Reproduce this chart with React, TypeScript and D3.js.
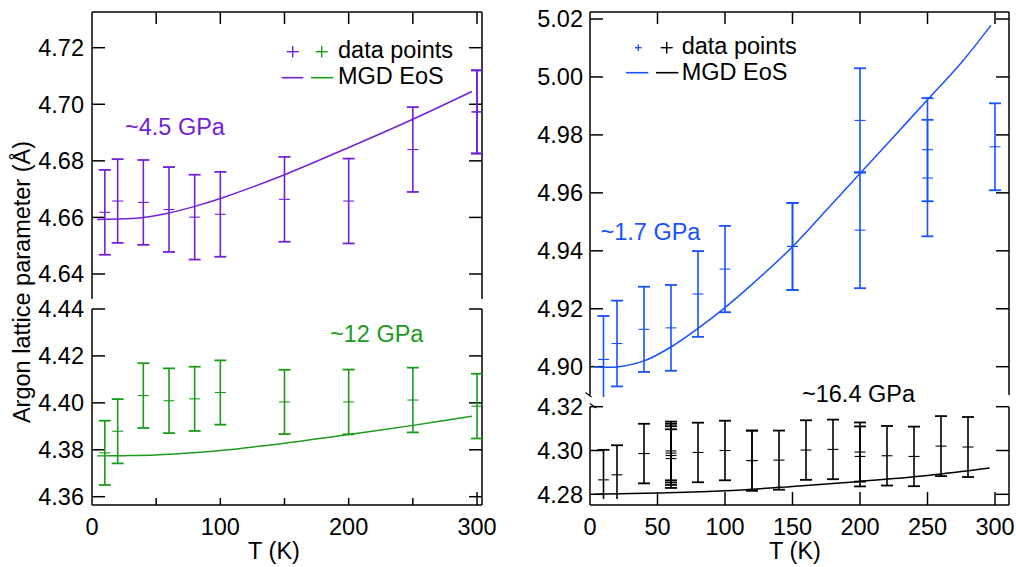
import React from 'react';
import * as d3 from 'd3';

const FONT = '"Liberation Sans", Arial, Helvetica, sans-serif';
const FS = 23.5;
const PURPLE = '#7420d8';
const GREEN = '#1a9c1a';
const BLUE = '#1652ff';
const BLACK = '#000000';

// ---------- data: ~4.5 GPa (left top, purple)
const T45 = [10, 20, 40, 60, 80, 100, 150, 200, 250, 300, 300];
const A45 = [4.6618, 4.6658, 4.6653, 4.6628, 4.6601, 4.6611, 4.6664, 4.6658, 4.684, 4.6973, 4.6973];
const E45 = [0.015, 0.0148, 0.015, 0.015, 0.015, 0.015, 0.015, 0.015, 0.015, 0.0147, 0.0147];
const CT45 = [4, 20, 40, 60, 80, 100, 150, 200, 250, 296];
const CA45 = [4.6593, 4.6594, 4.66, 4.6616, 4.6639, 4.6667, 4.6751, 4.6847, 4.6947, 4.7045];

// ---------- data: ~12 GPa (left bottom, green)
const T12 = [10, 20, 40, 60, 80, 100, 150, 200, 250, 300];
const A12 = [4.3787, 4.3879, 4.4031, 4.4009, 4.4017, 4.4044, 4.4004, 4.4004, 4.4012, 4.3986];
const E12 = [0.0137, 0.0137, 0.0138, 0.0138, 0.0137, 0.0137, 0.0137, 0.0138, 0.0138, 0.0138];
const CT12 = [4, 25, 50, 75, 100, 150, 200, 250, 296];
const CA12 = [4.3774, 4.3775, 4.3778, 4.3786, 4.3797, 4.3828, 4.3865, 4.3904, 4.3943];

// ---------- data: ~1.7 GPa (right top, blue)
const T17 = [10, 20, 40, 60, 80, 100, 150, 150, 200, 200, 250, 250, 300];
const A17 = [4.9025, 4.908, 4.9129, 4.9134, 4.9251, 4.9337, 4.9415, 4.9415, 4.985, 4.9471, 4.9749, 4.9651, 4.9759];
const E17 = [0.015, 0.0148, 0.0147, 0.0148, 0.0148, 0.0149, 0.015, 0.015, 0.018, 0.02, 0.0178, 0.0201, 0.015];
const CT17 = [3, 20, 40, 60, 80, 100, 120, 150, 175, 200, 225, 250, 275, 297];
const CA17 = [4.9, 4.8999, 4.902, 4.9068, 4.9132, 4.9204, 4.9284, 4.9414, 4.954, 4.9667, 4.9794, 4.9921, 5.0049, 5.0178];

// ---------- data: ~16.4 GPa (right bottom, black)
const T164 = [10, 20, 40, 60, 60, 60, 60, 80, 100, 120, 120, 140, 160, 180, 200, 200, 220, 240, 260, 280];
const A164 = [4.2866, 4.2889, 4.2986, 4.2998, 4.2988, 4.2977, 4.2963, 4.2991, 4.3, 4.2954, 4.2954, 4.2956, 4.3002, 4.3005, 4.2993, 4.2973, 4.2976, 4.2973, 4.302, 4.3016];
const E164 = [0.0137, 0.0135, 0.0136, 0.0134, 0.0134, 0.0134, 0.0134, 0.0136, 0.0136, 0.0137, 0.0137, 0.0135, 0.0136, 0.0136, 0.0135, 0.0137, 0.0136, 0.0136, 0.0137, 0.0137];
const CT164 = [3, 50, 100, 150, 200, 250, 296];
const CA164 = [4.28, 4.2806, 4.2816, 4.2836, 4.2859, 4.2886, 4.292];

// ---------- ticks
const yTicksLT = [4.64, 4.66, 4.68, 4.7, 4.72];
const yTicksLB = [4.36, 4.38, 4.4, 4.42, 4.44];
const yTicksRT = [4.9, 4.92, 4.94, 4.96, 4.98, 5.0, 5.02];
const yTicksRB = [4.28, 4.3, 4.32];
const xTicks = [50, 100, 150, 200, 250, 300];
const xLabelsLeft = [0, 100, 200, 300];
const xLabelsRight = [0, 50, 100, 150, 200, 250, 300];

// ---------- scales
const xL = d3.scaleLinear().domain([0, 300]).range([92, 477]);
const xR = d3.scaleLinear().domain([0, 300]).range([590, 995]);
const yLT = d3.scaleLinear().domain([4.64, 4.72]).range([274, 47.7]);
const yLB = d3.scaleLinear().domain([4.36, 4.44]).range([496.7, 309]);
const yRT = d3.scaleLinear().domain([4.9, 5.02]).range([366.7, 19]);
const yRB = d3.scaleLinear().domain([4.28, 4.32]).range([494.3, 406.7]);

const fmt = d3.format('.2f');

type Sc = d3.ScaleLinear<number, number>;

function ErrorBars(props: { T: number[]; A: number[]; E: number[]; x: Sc; y: Sc; color: string; clip: string }) {
  const { T, A, E, x, y, color, clip } = props;
  return (
    <g clipPath={`url(#${clip})`} stroke={color} fill="none">
      {T.map((t, i) => {
        const cx = x(t);
        const top = y(A[i] + E[i]);
        const bot = y(A[i] - E[i]);
        const cy = y(A[i]);
        return (
          <g key={i}>
            <line x1={cx} x2={cx} y1={top} y2={bot} strokeWidth={1.6} />
            <line x1={cx - 6} x2={cx + 6} y1={top} y2={top} strokeWidth={1.8} />
            <line x1={cx - 6} x2={cx + 6} y1={bot} y2={bot} strokeWidth={1.8} />
            <line x1={cx - 5.5} x2={cx + 5.5} y1={cy} y2={cy} strokeWidth={1.1} />
          </g>
        );
      })}
    </g>
  );
}

function Curve(props: { T: number[]; A: number[]; x: Sc; y: Sc; color: string; clip: string }) {
  const { T, A, x, y, color, clip } = props;
  const pts: [number, number][] = T.map((t, i) => [t, A[i]]);
  const line = d3
    .line<[number, number]>()
    .x((d) => x(d[0]))
    .y((d) => y(d[1]))
    .curve(d3.curveCatmullRom.alpha(0.5));
  return <path d={line(pts) || ''} fill="none" stroke={color} strokeWidth={1.5} clipPath={`url(#${clip})`} />;
}

function YAxis(props: { ticks: number[]; y: Sc; left: number; right: number; labelX: number }) {
  const { ticks, y, left, right, labelX } = props;
  return (
    <g>
      {ticks.map((v) => (
        <g key={v}>
          <line x1={left} x2={left + 13} y1={y(v)} y2={y(v)} stroke={BLACK} strokeWidth={1.5} />
          <line x1={right} x2={right - 13} y1={y(v)} y2={y(v)} stroke={BLACK} strokeWidth={1.5} />
          <text x={labelX} y={y(v) + 8.3} textAnchor="end" fontSize={FS} fontFamily={FONT} fill={BLACK}>
            {fmt(v)}
          </text>
        </g>
      ))}
    </g>
  );
}

export default function App() {
  const W = 1016;
  const H = 567;
  const top = 12;
  const bottom = 505;
  const sw = 1.5;
  return (
    <svg width={W} height={H} style={{ position: 'absolute', left: 0, top: 0, background: '#fff' }} fontFamily={FONT}>
      <defs>
        <clipPath id="cLT"><rect x={92} y={12} width={390} height={288} /></clipPath>
        <clipPath id="cLB"><rect x={92} y={309} width={390} height={196} /></clipPath>
        <clipPath id="cRT"><rect x={590} y={12} width={419} height={385} /></clipPath>
        <clipPath id="cRB"><rect x={590} y={400} width={419} height={99} /></clipPath>
      </defs>
      <rect x={0} y={0} width={W} height={H} fill="#fff" />

      {/* ===== Left frame ===== */}
      <g stroke={BLACK} strokeWidth={sw}>
        <line x1={92} x2={92} y1={top} y2={299} />
        <line x1={92} x2={92} y1={309} y2={bottom} />
        <line x1={482} x2={482} y1={top} y2={299} />
        <line x1={482} x2={482} y1={309} y2={bottom} />
        <line x1={92} x2={482} y1={top} y2={top} />
        <line x1={92} x2={482} y1={bottom} y2={bottom} />
        {xTicks.map((t) => (
          <line key={'lt' + t} x1={xL(t)} x2={xL(t)} y1={top} y2={top + 12} />
        ))}
        {xTicks.map((t) => (
          <line key={'lb' + t} x1={xL(t)} x2={xL(t)} y1={bottom} y2={bottom - (t === 300 ? 13 : 7)} />
        ))}
      </g>
      <YAxis ticks={yTicksLT} y={yLT} left={92} right={482} labelX={84} />
      <YAxis ticks={yTicksLB} y={yLB} left={92} right={482} labelX={84} />
      {xLabelsLeft.map((t) => (
        <text key={'xl' + t} x={xL(t)} y={535} textAnchor="middle" fontSize={FS} fill={BLACK}>
          {t}
        </text>
      ))}
      <text x={274} y={559} textAnchor="middle" fontSize={FS} fill={BLACK}>T (K)</text>
      <text transform="translate(30,282) rotate(-90)" textAnchor="middle" fontSize={FS} fill={BLACK}>
        Argon lattice parameter (Å)
      </text>

      {/* ===== Right frame ===== */}
      <g stroke={BLACK} strokeWidth={sw}>
        <line x1={590} x2={590} y1={top} y2={395} />
        <line x1={590} x2={590} y1={406.7} y2={bottom} />
        <line x1={1009} x2={1009} y1={top} y2={395} />
        <line x1={1009} x2={1009} y1={406.7} y2={bottom} />
        <line x1={590} x2={1009} y1={top} y2={top} />
        <line x1={590} x2={1009} y1={bottom} y2={bottom} />
        <line x1={585.5} x2={591.5} y1={392.5} y2={397} strokeWidth={1.2} />
        <line x1={590} x2={596} y1={403.5} y2={408} strokeWidth={1.2} />
        {xTicks.map((t) => (
          <line key={'rt' + t} x1={xR(t)} x2={xR(t)} y1={top} y2={top + 12} />
        ))}
        {xTicks.map((t) => (
          <line key={'rb' + t} x1={xR(t)} x2={xR(t)} y1={bottom} y2={bottom - 13} />
        ))}
      </g>
      <YAxis ticks={yTicksRT} y={yRT} left={590} right={1009} labelX={583} />
      <YAxis ticks={yTicksRB} y={yRB} left={590} right={1009} labelX={583} />
      {xLabelsRight.map((t) => (
        <text key={'xr' + t} x={xR(t)} y={535} textAnchor="middle" fontSize={FS} fill={BLACK}>
          {t}
        </text>
      ))}
      <text x={795} y={559} textAnchor="middle" fontSize={FS} fill={BLACK}>T (K)</text>

      {/* ===== Data ===== */}
      <Curve T={CT45} A={CA45} x={xL} y={yLT} color={PURPLE} clip="cLT" />
      <ErrorBars T={T45} A={A45} E={E45} x={xL} y={yLT} color={PURPLE} clip="cLT" />
      <Curve T={CT12} A={CA12} x={xL} y={yLB} color={GREEN} clip="cLB" />
      <ErrorBars T={T12} A={A12} E={E12} x={xL} y={yLB} color={GREEN} clip="cLB" />
      <Curve T={CT17} A={CA17} x={xR} y={yRT} color={BLUE} clip="cRT" />
      <ErrorBars T={T17} A={A17} E={E17} x={xR} y={yRT} color={BLUE} clip="cRT" />
      <Curve T={CT164} A={CA164} x={xR} y={yRB} color={BLACK} clip="cRB" />
      <ErrorBars T={T164} A={A164} E={E164} x={xR} y={yRB} color={BLACK} clip="cRB" />

      {/* ===== Annotations ===== */}
      <text x={125} y={135} fontSize={FS} fill={PURPLE}>~4.5 GPa</text>
      <text x={330} y={342} fontSize={FS} fill={GREEN}>~12 GPa</text>
      <text x={600.5} y={240} fontSize={FS} fill={BLUE}>~1.7 GPa</text>
      <text x={802} y={401.5} fontSize={FS} fill={BLACK}>~16.4 GPa</text>

      {/* ===== Legends ===== */}
      <g strokeWidth={1.4}>
        <line x1={286.7} x2={298.7} y1={51.7} y2={51.7} stroke={PURPLE} />
        <line x1={292.7} x2={292.7} y1={46} y2={57.4} stroke={PURPLE} />
        <line x1={315.7} x2={327.7} y1={51.7} y2={51.7} stroke={GREEN} />
        <line x1={321.7} x2={321.7} y1={46} y2={57.4} stroke={GREEN} />
        <line x1={281.7} x2={303.3} y1={77.7} y2={77.7} stroke={PURPLE} strokeWidth={1.6} />
        <line x1={311} x2={333.3} y1={77.7} y2={77.7} stroke={GREEN} strokeWidth={1.6} />
      </g>
      <text x={338} y={57.5} fontSize={FS} fill={BLACK}>data points</text>
      <text x={338} y={84.3} fontSize={FS} fill={BLACK}>MGD EoS</text>

      <g strokeWidth={1.4}>
        <line x1={635} x2={641.6} y1={47.7} y2={47.7} stroke={BLUE} />
        <line x1={638.3} x2={638.3} y1={44.4} y2={51} stroke={BLUE} />
        <line x1={660.7} x2={672.7} y1={47.7} y2={47.7} stroke={BLACK} />
        <line x1={666.7} x2={666.7} y1={42} y2={53.4} stroke={BLACK} />
        <line x1={626} x2={648.3} y1={72.7} y2={72.7} stroke={BLUE} strokeWidth={1.6} />
        <line x1={656} x2={678.3} y1={72.7} y2={72.7} stroke={BLACK} strokeWidth={1.6} />
      </g>
      <text x={681.7} y={53.5} fontSize={FS} fill={BLACK}>data points</text>
      <text x={681.7} y={79.5} fontSize={FS} fill={BLACK}>MGD EoS</text>
    </svg>
  );
}
